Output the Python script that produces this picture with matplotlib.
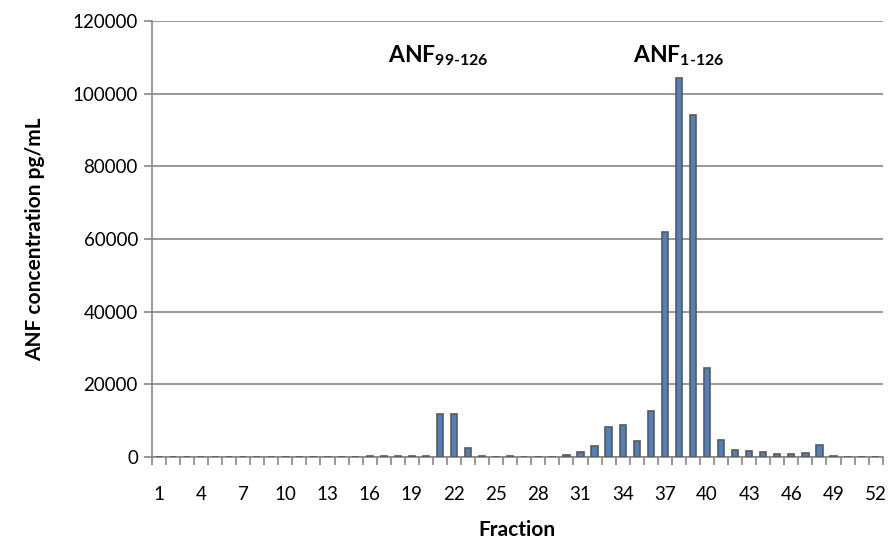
import matplotlib.pyplot as plt
import numpy as np

plt.rcParams['font.family'] = ['Lato', 'DejaVu Sans']
plt.rcParams['mathtext.fontset'] = 'custom'
plt.rcParams['mathtext.rm'] = 'Lato:bold'
plt.rcParams['mathtext.bf'] = 'Lato:bold'

# data
fractions = list(range(1, 53))
conc = [0, 150, 150, 0, 0, 150, 150, 0, 150, 0,
        0, 0, 150, 0, 0, 200, 200, 300, 200, 200,
        11800, 11800, 2500, 300, 100, 200, 100, 100, 0, 600,
        1500, 3000, 8300, 8800, 4500, 12600, 62000, 104300, 94000, 24500,
        4600, 2000, 1800, 1400, 900, 800, 1000, 3200, 300, 100,
        100, 100]
tick_labels = [str(f) for f in fractions[::3]]

fig = plt.figure(figsize=(8.88, 5.5), dpi=100)
ax = fig.add_axes([0.171, 0.169, 0.823, 0.793])

x = np.arange(len(fractions))
ax.bar(x, conc, width=0.45, color='#4F81BD', edgecolor='#595959', linewidth=1.2, zorder=3)

ax.set_xlim(-0.5, len(fractions) - 0.5)
ax.set_ylim(0, 120000)
ax.set_yticks(np.arange(0, 120001, 20000))
ax.yaxis.grid(True, color='#868686', linewidth=1.2, zorder=0)

ax.set_xticks(x[::3])
ax.set_xticklabels(tick_labels)
ax.set_xticks(np.arange(-0.5, len(fractions)), minor=True)
ax.tick_params(axis='x', which='major', length=0, labelsize=13.5, pad=21)
ax.tick_params(axis='x', which='minor', length=6, color='#868686', width=1.2)
ax.tick_params(axis='y', length=6, color='#868686', width=1.2, labelsize=13.5, pad=4)

for s in ['top', 'right']:
    ax.spines[s].set_visible(False)
for s in ['left', 'bottom']:
    ax.spines[s].set_color('#868686')
    ax.spines[s].set_linewidth(1.2)

ax.set_ylabel('ANF concentration pg/mL', fontsize=15, fontweight='bold', labelpad=20)
ax.set_xlabel('Fraction', fontsize=15, fontweight='bold', labelpad=12)

ax.text(19.9, 110500, r'ANF$_{99\text{-}126}$', fontsize=16.5, fontweight='bold', ha='center', va='center')
ax.text(37.0, 110500, r'ANF$_{1\text{-}126}$', fontsize=16.5, fontweight='bold', ha='center', va='center')

fig.savefig('out.png', dpi=100)
